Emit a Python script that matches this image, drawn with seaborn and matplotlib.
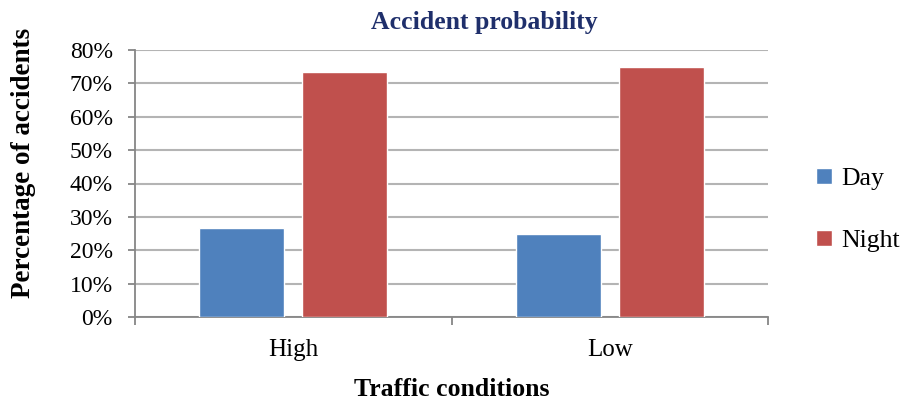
import matplotlib
matplotlib.use("Agg")
import matplotlib.pyplot as plt
import pandas as pd
import seaborn as sns
from matplotlib.ticker import FixedLocator, PercentFormatter

sns.set_style("white")
plt.rcParams['font.family'] = ['Liberation Serif', 'DejaVu Serif']
plt.rcParams['text.color'] = 'black'
plt.rcParams['axes.labelcolor'] = 'black'
plt.rcParams['xtick.color'] = 'black'
plt.rcParams['ytick.color'] = 'black'

conditions = ["High", "Low"]
periods = ["Day", "Night"]
day_pct = [26.7, 25.0]
night_pct = [73.3, 75.0]

df = pd.DataFrame({
    "Traffic conditions": conditions * 2,
    "Period": ["Day"] * 2 + ["Night"] * 2,
    "Percentage": day_pct + night_pct,
})

fig = plt.figure(figsize=(9.06, 4.01), dpi=100)
ax = fig.add_axes([135/906, 1 - 317/401, 633/906, 267/401])

sns.barplot(data=df, x="Traffic conditions", y="Percentage", hue="Period",
            order=conditions, hue_order=periods,
            palette={"Day": "#4F81BD", "Night": "#C0504D"},
            width=0.652, gap=0.175, saturation=1, ax=ax, zorder=3)

ax.set_xlim(-0.5, 1.5)
ax.set_ylim(0, 80)
ax.set_yticks(range(0, 81, 10))
ax.yaxis.set_major_formatter(PercentFormatter(decimals=0))
ax.grid(axis="y", color="#b4b4b4", linewidth=1.5, zorder=0)
ax.set_axisbelow(True)

for s in ["top", "right"]:
    ax.spines[s].set_visible(False)
for s in ["left", "bottom"]:
    ax.spines[s].set_color("#868686")
    ax.spines[s].set_linewidth(1.3)

ax.tick_params(axis="y", which="major", length=5, color="#868686", width=1.3,
               labelsize=17, pad=11, direction="out", left=True)
ax.tick_params(axis="x", which="major", length=0, labelsize=18, pad=16)
ax.xaxis.set_minor_locator(FixedLocator([-0.5, 0.5, 1.5]))
ax.tick_params(axis="x", which="minor", length=6, color="#868686", width=1.3,
               direction="out", bottom=True)

ax.set_xlabel("Traffic conditions", fontsize=18.5, fontweight="bold", labelpad=12)
ax.set_ylabel("Percentage of accidents", fontsize=19.5, fontweight="bold")
ax.yaxis.set_label_coords(-0.156, 0.577)

fig.text(484/906, 1 - 22/401, "Accident probability", ha="center", va="center",
         fontsize=18.5, fontweight="bold", color="#1F2F6B")

ax.legend(title=None, loc="center left", bbox_to_anchor=(1.04, 0.40), frameon=False,
          fontsize=18.5, handlelength=0.6, handleheight=0.6, handletextpad=0.35,
          labelspacing=1.55)

fig.savefig("out.png", dpi=100)
